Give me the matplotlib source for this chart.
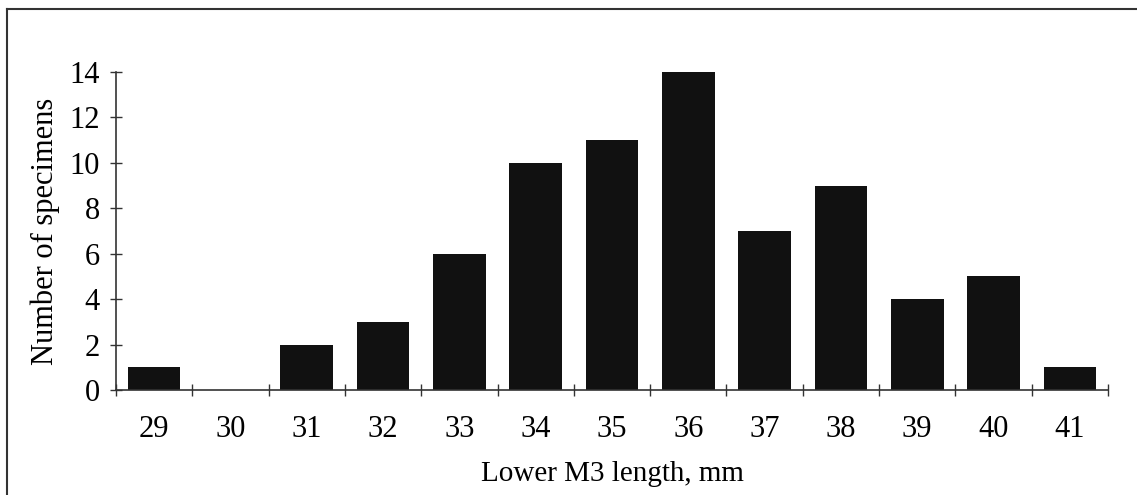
import numpy as np
import matplotlib
matplotlib.use("Agg")
import matplotlib.pyplot as plt
from matplotlib.lines import Line2D

# lower M3 length classes (mm) and counts
lengths = ["29", "30", "31", "32", "33", "34", "35", "36", "37", "38", "39", "40", "41"]
counts = [1, 0, 2, 3, 6, 10, 11, 14, 7, 9, 4, 5, 1]
yticks = [0, 2, 4, 6, 8, 10, 12, 14]

plt.rcParams['font.family'] = ['Liberation Serif', 'DejaVu Serif']

fig = plt.figure(figsize=(11.37, 4.95), dpi=100)
ax = fig.add_axes([0.102, 0.212, 0.8725, 0.6425])

x = np.arange(len(lengths))
ax.bar(x, counts, width=0.69, color="#111111", edgecolor="none")

ax.set_xlim(-0.5, len(lengths) - 0.5)
ax.set_ylim(0, 14)

# labels centred, tick marks between classes
ax.set_xticks(x)
ax.set_xticklabels(lengths)
ax.set_xticks(np.arange(len(lengths) + 1) - 0.5, minor=True)
ax.tick_params(axis="x", which="major", length=0, pad=18, labelsize=22)
ax.tick_params(axis="x", which="minor", direction="inout", length=9, width=1, color="#333333")

ax.set_yticks(yticks)
ax.tick_params(axis="y", direction="inout", length=9, width=1, color="#333333", pad=7, labelsize=22)

for s in ["top", "right"]:
    ax.spines[s].set_visible(False)
for s in ["left", "bottom"]:
    ax.spines[s].set_color("#333333")
    ax.spines[s].set_linewidth(1.2)

ax.set_xlabel("Lower M3 length, mm", fontsize=21, labelpad=12)
ax.set_ylabel("Number of specimens", fontsize=22, labelpad=7)

# frame around the figure (left and top edges show in the scan)
fig.add_artist(Line2D([0.0065, 0.0065], [0.0, 0.982], color="#333333", lw=1.5, transform=fig.transFigure))
fig.add_artist(Line2D([0.0065, 1.0], [0.982, 0.982], color="#333333", lw=1.5, transform=fig.transFigure))

fig.savefig("out.png", dpi=100)
